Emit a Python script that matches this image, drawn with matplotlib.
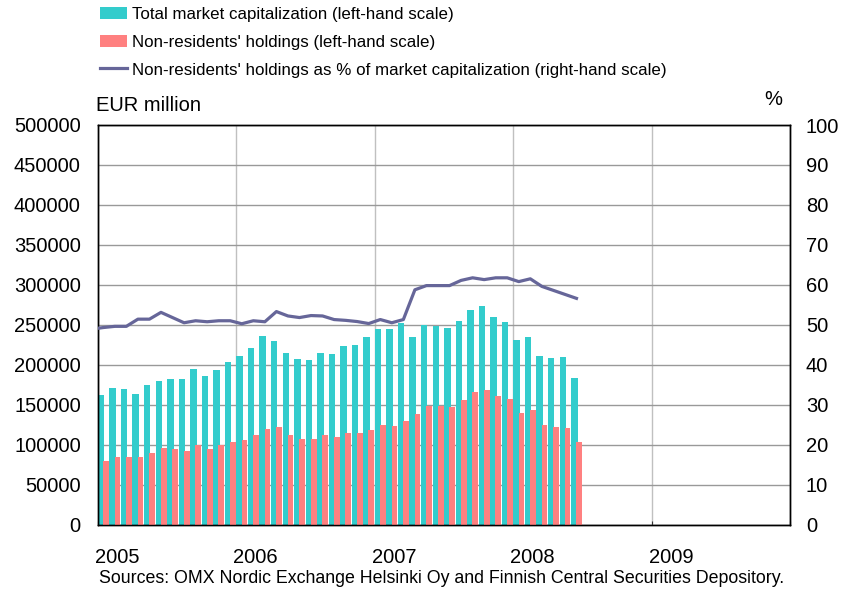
import numpy as np
import pandas as pd
import matplotlib
matplotlib.use("Agg")
import matplotlib.pyplot as plt
from matplotlib.patches import Patch
from matplotlib.lines import Line2D

plt.rcParams['font.family'] = ['Liberation Sans', 'DejaVu Sans']

# ---- data (EUR million / %), monthly Jan 2005 - Jun 2008 ----
months = pd.period_range('2005-01', '2008-06', freq='M')
total_cap = [161700, 171250, 170000, 163750, 175000, 179600, 182500, 182500, 195000, 186250, 193750, 203750,
             211250, 220400, 235800, 230000, 214600, 207500, 206250, 214600, 213750, 222900, 224200, 235000,
             244200, 244200, 251700, 235000, 249200, 247900, 245400, 254200, 267900, 272900, 260000, 252900,
             230400, 234200, 210400, 207900, 209200, 182900]
nonres_hold = [80000, 85000, 84600, 84600, 90000, 96250, 95000, 92500, 100000, 95000, 100000, 103750,
               106250, 112500, 120000, 122500, 112500, 107500, 107500, 112500, 109600, 114200, 114200, 117900,
               124200, 122900, 129200, 137900, 147900, 147900, 146700, 155400, 165400, 167900, 161300, 156700,
               140000, 142900, 124200, 121700, 120800, 102900]
# percentage series starts Dec 2004 (clipped at the axis)
pct_months = pd.period_range('2004-12', '2008-06', freq='M')
pct_share = [48.9,
             49.3, 49.6, 49.6, 51.4, 51.4, 53.1, 51.8, 50.5, 51.0, 50.75, 51.0, 51.0,
             50.25, 51.0, 50.75, 53.3, 52.2, 51.8, 52.3, 52.2, 51.3, 51.1, 50.8, 50.3,
             51.3, 50.5, 51.3, 58.75, 59.8, 59.8, 59.8, 61.1, 61.75, 61.3, 61.75, 61.75,
             60.8, 61.5, 59.6, 58.6, 57.6, 56.6]
year_labels = ['2005', '2006', '2007', '2008', '2009']

labels = ["Total market capitalization (left-hand scale)",
          "Non-residents' holdings (left-hand scale)",
          "Non-residents' holdings as % of market capitalization (right-hand scale)"]

TEAL = '#33CCCC'
PINK = '#FF8080'
LINE = '#666699'

start = pd.Period('2005-01', freq='M')
x = np.array([(m - start).n for m in months], dtype=float)
xp = np.array([(m - start).n for m in pct_months], dtype=float)

fig = plt.figure(figsize=(8.44, 5.90), dpi=100)
L, R, B, T = 97.5 / 844, 790 / 844, 1 - 524.5 / 590, 1 - 125 / 590
ax = fig.add_axes([L, B, R - L, T - B])
ax2 = ax.twinx()

ax.set_axisbelow(True)
ax.bar(x + 0.03, total_cap, width=0.56, align='edge', color=TEAL, zorder=2)
ax.bar(x + 0.48, nonres_hold, width=0.50, align='edge', color=PINK, zorder=3)
ax2.plot(xp + 0.5, pct_share, color=LINE, lw=2.3, solid_joinstyle='round', zorder=4)

ax.set_xlim(0, 60)
ax.set_ylim(0, 500000)
ax2.set_ylim(0, 100)

ax.set_yticks(np.arange(0, 500001, 50000))
ax2.set_yticks(np.arange(0, 101, 10))
ax.yaxis.grid(True, color='#999999', lw=1.0)
ax.set_xticks(np.arange(0, 61, 12))
ax.set_xticklabels([])
ax.xaxis.grid(True, color='#C0C0C0', lw=1.0)
ax.set_xticks(np.arange(0, 60, 12) + 1.7, minor=True)
ax.set_xticklabels(year_labels, minor=True)

ax.tick_params(axis='x', which='major', direction='in', length=3, color='#333333')
ax.tick_params(axis='x', which='minor', length=0, pad=17, labelsize=14.5)
ax.tick_params(axis='y', direction='in', length=0, pad=12, labelsize=14.5)
ax2.tick_params(axis='y', direction='in', length=0, pad=11.5, labelsize=14.5)

for a in (ax, ax2):
    for s in a.spines.values():
        s.set_color('black')
        s.set_linewidth(1.0)

fig.text(96 / 844, 1 - 111 / 590, 'EUR million', fontsize=14.5, ha='left', va='baseline')
fig.text(782 / 844, 1 - 105 / 590, '%', fontsize=14.5, ha='right', va='baseline')
fig.text(99 / 844, 1 - 583 / 590,
         'Sources: OMX Nordic Exchange Helsinki Oy and Finnish Central Securities Depository.',
         fontsize=12.8, ha='left', va='baseline')

handles = [Patch(facecolor=TEAL, edgecolor='none'),
           Patch(facecolor=PINK, edgecolor='none'),
           Line2D([], [], color=LINE, lw=2.3)]
fig.legend(handles, labels, loc='upper left', bbox_to_anchor=(95 / 844, 1 - 2 / 590),
           frameon=False, fontsize=12.2, handlelength=1.6, handleheight=0.75,
           handletextpad=0.3, labelspacing=0.74, borderaxespad=0.0, borderpad=0.3)

fig.savefig('out.png', dpi=100)
